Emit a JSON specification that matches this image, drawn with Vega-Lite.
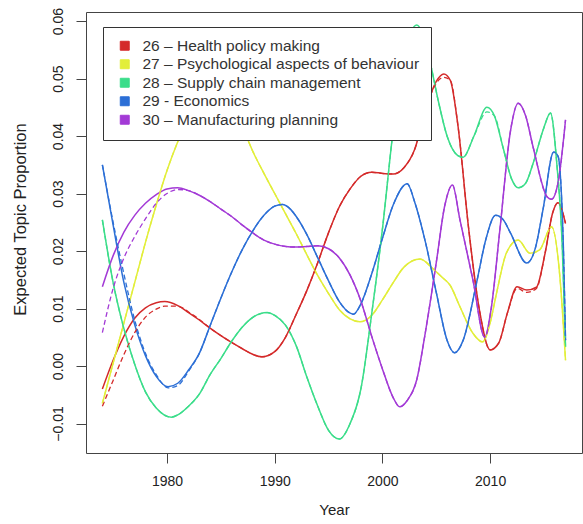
{
  "$schema": "https://vega.github.io/schema/vega-lite/v6.json",
  "width": 496,
  "height": 441,
  "autosize": {"type": "none"},
  "padding": {"left": 86, "top": 12, "right": 1, "bottom": 71},
  "background": "white",
  "config": {
    "view": {"stroke": "#444", "strokeWidth": 1},
    "font": "Liberation Sans",
    "axis": {
      "domain": false,
      "grid": false,
      "tickColor": "#444",
      "tickSize": 10,
      "labelFont": "Liberation Sans",
      "labelFontSize": 14,
      "labelColor": "#222",
      "titleFont": "Liberation Sans",
      "titleFontSize": 15,
      "titleFontWeight": "normal",
      "titleColor": "#222",
      "labelPadding": 11
    },
    "legend": {
      "orient": "none",
      "legendX": 17,
      "legendY": 15,
      "fillColor": "white",
      "strokeColor": "#333",
      "padding": 11,
      "symbolType": "square",
      "symbolSize": 80,
      "labelFont": "Liberation Sans",
      "labelFontSize": 15.5,
      "labelColor": "#333",
      "labelOffset": 10,
      "labelLimit": 0,
      "rowPadding": 1.5,
      "symbolOffset": 3
    }
  },
  "data": {
    "values": [
      {"topic": "26", "year": 1974, "v": -0.004, "d": -0.007},
      {"topic": "26", "year": 1975, "v": 0.001, "d": -0.0025},
      {"topic": "26", "year": 1976, "v": 0.0052, "d": 0.002},
      {"topic": "26", "year": 1977, "v": 0.0083, "d": 0.0058},
      {"topic": "26", "year": 1978, "v": 0.0101, "d": 0.0085},
      {"topic": "26", "year": 1979, "v": 0.011, "d": 0.0099},
      {"topic": "26", "year": 1979.8, "v": 0.0112, "d": 0.0104},
      {"topic": "26", "year": 1981, "v": 0.0105, "d": 0.0104},
      {"topic": "26", "year": 1982, "v": 0.0093, "d": 0.0094},
      {"topic": "26", "year": 1983, "v": 0.008, "d": 0.0081},
      {"topic": "26", "year": 1984, "v": 0.0066, "d": 0.0066},
      {"topic": "26", "year": 1985, "v": 0.0053, "d": 0.0053},
      {"topic": "26", "year": 1986, "v": 0.0041, "d": 0.0041},
      {"topic": "26", "year": 1987, "v": 0.003, "d": 0.003},
      {"topic": "26", "year": 1988, "v": 0.002, "d": 0.002},
      {"topic": "26", "year": 1988.8, "v": 0.0016, "d": 0.0016},
      {"topic": "26", "year": 1990, "v": 0.0025, "d": 0.0025},
      {"topic": "26", "year": 1991, "v": 0.005, "d": 0.005},
      {"topic": "26", "year": 1992, "v": 0.009, "d": 0.009},
      {"topic": "26", "year": 1993, "v": 0.0132, "d": 0.0132},
      {"topic": "26", "year": 1994, "v": 0.018, "d": 0.018},
      {"topic": "26", "year": 1995, "v": 0.0232, "d": 0.0232},
      {"topic": "26", "year": 1996, "v": 0.0277, "d": 0.0277},
      {"topic": "26", "year": 1997, "v": 0.0308, "d": 0.0308},
      {"topic": "26", "year": 1998, "v": 0.033, "d": 0.033},
      {"topic": "26", "year": 1999, "v": 0.0337, "d": 0.0337},
      {"topic": "26", "year": 2000, "v": 0.0335, "d": 0.0335},
      {"topic": "26", "year": 2001, "v": 0.0334, "d": 0.0334},
      {"topic": "26", "year": 2002, "v": 0.0345, "d": 0.0345},
      {"topic": "26", "year": 2003, "v": 0.0377, "d": 0.0377},
      {"topic": "26", "year": 2004, "v": 0.0445, "d": 0.0445},
      {"topic": "26", "year": 2005, "v": 0.0495, "d": 0.0492},
      {"topic": "26", "year": 2005.7, "v": 0.0508, "d": 0.0502},
      {"topic": "26", "year": 2006.3, "v": 0.0497, "d": 0.0497},
      {"topic": "26", "year": 2007, "v": 0.042, "d": 0.042},
      {"topic": "26", "year": 2008, "v": 0.024, "d": 0.024},
      {"topic": "26", "year": 2009, "v": 0.0098, "d": 0.0098},
      {"topic": "26", "year": 2010, "v": 0.0028, "d": 0.0028},
      {"topic": "26", "year": 2010.8, "v": 0.004, "d": 0.004},
      {"topic": "26", "year": 2011.6, "v": 0.0092, "d": 0.0092},
      {"topic": "26", "year": 2012.5, "v": 0.0138, "d": 0.0135},
      {"topic": "26", "year": 2013.4, "v": 0.0132, "d": 0.0128},
      {"topic": "26", "year": 2014.3, "v": 0.0137, "d": 0.0135},
      {"topic": "26", "year": 2015.1, "v": 0.0196, "d": 0.0196},
      {"topic": "26", "year": 2015.8, "v": 0.0266, "d": 0.0266},
      {"topic": "26", "year": 2016.3, "v": 0.0284, "d": 0.0284},
      {"topic": "26", "year": 2017, "v": 0.0248, "d": 0.0248},

      {"topic": "27", "year": 1974, "v": -0.0065, "d": -0.0065},
      {"topic": "27", "year": 1975, "v": 0.0005, "d": 0.0005},
      {"topic": "27", "year": 1976, "v": 0.0075, "d": 0.0075},
      {"topic": "27", "year": 1977, "v": 0.0145, "d": 0.0145},
      {"topic": "27", "year": 1978, "v": 0.0215, "d": 0.0215},
      {"topic": "27", "year": 1979, "v": 0.028, "d": 0.028},
      {"topic": "27", "year": 1980, "v": 0.034, "d": 0.034},
      {"topic": "27", "year": 1981, "v": 0.039, "d": 0.039},
      {"topic": "27", "year": 1982, "v": 0.0432, "d": 0.0432},
      {"topic": "27", "year": 1983, "v": 0.0462, "d": 0.0462},
      {"topic": "27", "year": 1984, "v": 0.0477, "d": 0.0477},
      {"topic": "27", "year": 1985, "v": 0.0472, "d": 0.0472},
      {"topic": "27", "year": 1986, "v": 0.045, "d": 0.045},
      {"topic": "27", "year": 1987, "v": 0.0415, "d": 0.0415},
      {"topic": "27", "year": 1988, "v": 0.0372, "d": 0.0372},
      {"topic": "27", "year": 1989, "v": 0.0335, "d": 0.0335},
      {"topic": "27", "year": 1990, "v": 0.03, "d": 0.03},
      {"topic": "27", "year": 1991, "v": 0.0265, "d": 0.0265},
      {"topic": "27", "year": 1992, "v": 0.023, "d": 0.023},
      {"topic": "27", "year": 1993, "v": 0.0193, "d": 0.0193},
      {"topic": "27", "year": 1994, "v": 0.0157, "d": 0.0157},
      {"topic": "27", "year": 1995, "v": 0.0126, "d": 0.0126},
      {"topic": "27", "year": 1996, "v": 0.0098, "d": 0.0098},
      {"topic": "27", "year": 1997, "v": 0.0082, "d": 0.0082},
      {"topic": "27", "year": 1997.9, "v": 0.0077, "d": 0.0077},
      {"topic": "27", "year": 1999, "v": 0.0088, "d": 0.0088},
      {"topic": "27", "year": 2000, "v": 0.0115, "d": 0.0115},
      {"topic": "27", "year": 2001, "v": 0.0145, "d": 0.0145},
      {"topic": "27", "year": 2002, "v": 0.0172, "d": 0.0172},
      {"topic": "27", "year": 2003.5, "v": 0.0186, "d": 0.0186},
      {"topic": "27", "year": 2004.7, "v": 0.0169, "d": 0.0169},
      {"topic": "27", "year": 2005.5, "v": 0.0155, "d": 0.0155},
      {"topic": "27", "year": 2006.3, "v": 0.014, "d": 0.014},
      {"topic": "27", "year": 2007.2, "v": 0.0103, "d": 0.0103},
      {"topic": "27", "year": 2008.4, "v": 0.0057, "d": 0.0057},
      {"topic": "27", "year": 2009.3, "v": 0.0042, "d": 0.0042},
      {"topic": "27", "year": 2010, "v": 0.0075, "d": 0.0075},
      {"topic": "27", "year": 2010.6, "v": 0.0127, "d": 0.0127},
      {"topic": "27", "year": 2011.5, "v": 0.0196, "d": 0.0196},
      {"topic": "27", "year": 2012.6, "v": 0.0219, "d": 0.0219},
      {"topic": "27", "year": 2013.7, "v": 0.0196, "d": 0.0196},
      {"topic": "27", "year": 2014.6, "v": 0.0202, "d": 0.0202},
      {"topic": "27", "year": 2015.7, "v": 0.0242, "d": 0.0242},
      {"topic": "27", "year": 2016.5, "v": 0.015, "d": 0.015},
      {"topic": "27", "year": 2017, "v": 0.001, "d": 0.001},

      {"topic": "28", "year": 1974, "v": 0.0254, "d": 0.0254},
      {"topic": "28", "year": 1975, "v": 0.0145, "d": 0.0145},
      {"topic": "28", "year": 1976, "v": 0.0065, "d": 0.0065},
      {"topic": "28", "year": 1977, "v": 0.0003, "d": 0.0003},
      {"topic": "28", "year": 1978, "v": -0.0045, "d": -0.0045},
      {"topic": "28", "year": 1979, "v": -0.0073, "d": -0.0073},
      {"topic": "28", "year": 1980.4, "v": -0.0089, "d": -0.0089},
      {"topic": "28", "year": 1981, "v": -0.0085, "d": -0.0085},
      {"topic": "28", "year": 1982, "v": -0.007, "d": -0.007},
      {"topic": "28", "year": 1983, "v": -0.0049, "d": -0.0049},
      {"topic": "28", "year": 1984, "v": -0.0015, "d": -0.0015},
      {"topic": "28", "year": 1985, "v": 0.0013, "d": 0.0013},
      {"topic": "28", "year": 1986, "v": 0.0043, "d": 0.0043},
      {"topic": "28", "year": 1987, "v": 0.0068, "d": 0.0068},
      {"topic": "28", "year": 1988, "v": 0.0085, "d": 0.0085},
      {"topic": "28", "year": 1989.3, "v": 0.0093, "d": 0.0093},
      {"topic": "28", "year": 1990, "v": 0.0088, "d": 0.0088},
      {"topic": "28", "year": 1991, "v": 0.0071, "d": 0.0071},
      {"topic": "28", "year": 1992, "v": 0.0035, "d": 0.0035},
      {"topic": "28", "year": 1993, "v": -0.002, "d": -0.002},
      {"topic": "28", "year": 1994, "v": -0.007, "d": -0.007},
      {"topic": "28", "year": 1995, "v": -0.0112, "d": -0.0112},
      {"topic": "28", "year": 1996, "v": -0.0127, "d": -0.0127},
      {"topic": "28", "year": 1997, "v": -0.01, "d": -0.01},
      {"topic": "28", "year": 1998, "v": -0.004, "d": -0.004},
      {"topic": "28", "year": 1999, "v": 0.009, "d": 0.009},
      {"topic": "28", "year": 2000, "v": 0.0238, "d": 0.0238},
      {"topic": "28", "year": 2001, "v": 0.041, "d": 0.041},
      {"topic": "28", "year": 2002, "v": 0.0538, "d": 0.0538},
      {"topic": "28", "year": 2003.2, "v": 0.0593, "d": 0.0588},
      {"topic": "28", "year": 2004.4, "v": 0.053, "d": 0.053},
      {"topic": "28", "year": 2005.2, "v": 0.046, "d": 0.046},
      {"topic": "28", "year": 2006, "v": 0.04, "d": 0.04},
      {"topic": "28", "year": 2007, "v": 0.0366, "d": 0.0366},
      {"topic": "28", "year": 2007.5, "v": 0.0363, "d": 0.0363},
      {"topic": "28", "year": 2008.5, "v": 0.04, "d": 0.04},
      {"topic": "28", "year": 2009.7, "v": 0.045, "d": 0.0442},
      {"topic": "28", "year": 2010.4, "v": 0.0435, "d": 0.0435},
      {"topic": "28", "year": 2011.2, "v": 0.038, "d": 0.038},
      {"topic": "28", "year": 2012, "v": 0.0325, "d": 0.0325},
      {"topic": "28", "year": 2012.6, "v": 0.031, "d": 0.031},
      {"topic": "28", "year": 2013.3, "v": 0.0318, "d": 0.0318},
      {"topic": "28", "year": 2014, "v": 0.0353, "d": 0.0353},
      {"topic": "28", "year": 2015, "v": 0.0415, "d": 0.0415},
      {"topic": "28", "year": 2015.6, "v": 0.044, "d": 0.044},
      {"topic": "28", "year": 2016.2, "v": 0.035, "d": 0.035},
      {"topic": "28", "year": 2016.7, "v": 0.0207, "d": 0.0207},
      {"topic": "28", "year": 2017, "v": 0.0033, "d": 0.0033},

      {"topic": "29", "year": 1974, "v": 0.035, "d": 0.035},
      {"topic": "29", "year": 1975, "v": 0.0245, "d": 0.025},
      {"topic": "29", "year": 1976, "v": 0.0145, "d": 0.016},
      {"topic": "29", "year": 1977, "v": 0.0072, "d": 0.008},
      {"topic": "29", "year": 1978, "v": 0.0018, "d": 0.0022},
      {"topic": "29", "year": 1979, "v": -0.0018, "d": -0.0015},
      {"topic": "29", "year": 1980.1, "v": -0.0036, "d": -0.0038},
      {"topic": "29", "year": 1981, "v": -0.003, "d": -0.0034},
      {"topic": "29", "year": 1982, "v": -0.0007, "d": -0.0009},
      {"topic": "29", "year": 1983, "v": 0.0022, "d": 0.0022},
      {"topic": "29", "year": 1984, "v": 0.007, "d": 0.007},
      {"topic": "29", "year": 1985, "v": 0.0118, "d": 0.0118},
      {"topic": "29", "year": 1986, "v": 0.0163, "d": 0.0163},
      {"topic": "29", "year": 1987, "v": 0.0203, "d": 0.0203},
      {"topic": "29", "year": 1988, "v": 0.0236, "d": 0.0236},
      {"topic": "29", "year": 1989, "v": 0.0262, "d": 0.0262},
      {"topic": "29", "year": 1990, "v": 0.0278, "d": 0.0278},
      {"topic": "29", "year": 1990.7, "v": 0.0281, "d": 0.0281},
      {"topic": "29", "year": 1991.5, "v": 0.0272, "d": 0.0272},
      {"topic": "29", "year": 1992, "v": 0.026, "d": 0.026},
      {"topic": "29", "year": 1993, "v": 0.0228, "d": 0.0228},
      {"topic": "29", "year": 1994, "v": 0.0188, "d": 0.0188},
      {"topic": "29", "year": 1995, "v": 0.0148, "d": 0.0148},
      {"topic": "29", "year": 1996, "v": 0.0112, "d": 0.0112},
      {"topic": "29", "year": 1997, "v": 0.0092, "d": 0.0092},
      {"topic": "29", "year": 1997.3, "v": 0.009, "d": 0.009},
      {"topic": "29", "year": 1998, "v": 0.0108, "d": 0.0108},
      {"topic": "29", "year": 1999, "v": 0.016, "d": 0.016},
      {"topic": "29", "year": 2000, "v": 0.0222, "d": 0.0222},
      {"topic": "29", "year": 2001, "v": 0.028, "d": 0.028},
      {"topic": "29", "year": 2002.3, "v": 0.0317, "d": 0.0317},
      {"topic": "29", "year": 2003, "v": 0.0285, "d": 0.0285},
      {"topic": "29", "year": 2004, "v": 0.0215, "d": 0.0215},
      {"topic": "29", "year": 2005, "v": 0.0128, "d": 0.0128},
      {"topic": "29", "year": 2006, "v": 0.0045, "d": 0.0045},
      {"topic": "29", "year": 2006.7, "v": 0.0023, "d": 0.0023},
      {"topic": "29", "year": 2007.5, "v": 0.0045, "d": 0.0045},
      {"topic": "29", "year": 2008.8, "v": 0.015, "d": 0.015},
      {"topic": "29", "year": 2009.6, "v": 0.022, "d": 0.022},
      {"topic": "29", "year": 2010.5, "v": 0.0262, "d": 0.0262},
      {"topic": "29", "year": 2011.2, "v": 0.0255, "d": 0.0255},
      {"topic": "29", "year": 2011.9, "v": 0.0231, "d": 0.0231},
      {"topic": "29", "year": 2013.4, "v": 0.0179, "d": 0.0179},
      {"topic": "29", "year": 2014.2, "v": 0.0205, "d": 0.0205},
      {"topic": "29", "year": 2014.9, "v": 0.0271, "d": 0.0271},
      {"topic": "29", "year": 2015.9, "v": 0.0372, "d": 0.0372},
      {"topic": "29", "year": 2016.3, "v": 0.0365, "d": 0.0365},
      {"topic": "29", "year": 2016.8, "v": 0.0207, "d": 0.0207},
      {"topic": "29", "year": 2017, "v": 0.0045, "d": 0.0045},

      {"topic": "30", "year": 1974, "v": 0.0138, "d": 0.0058},
      {"topic": "30", "year": 1975, "v": 0.0192, "d": 0.0135},
      {"topic": "30", "year": 1976, "v": 0.0233, "d": 0.0188},
      {"topic": "30", "year": 1977, "v": 0.0262, "d": 0.0225},
      {"topic": "30", "year": 1978, "v": 0.0283, "d": 0.0256},
      {"topic": "30", "year": 1979, "v": 0.0298, "d": 0.0283},
      {"topic": "30", "year": 1980, "v": 0.0308, "d": 0.03},
      {"topic": "30", "year": 1981, "v": 0.031, "d": 0.0307},
      {"topic": "30", "year": 1982, "v": 0.0305, "d": 0.0305},
      {"topic": "30", "year": 1983, "v": 0.0297, "d": 0.0297},
      {"topic": "30", "year": 1984, "v": 0.0286, "d": 0.0286},
      {"topic": "30", "year": 1985, "v": 0.0273, "d": 0.0273},
      {"topic": "30", "year": 1986, "v": 0.026, "d": 0.026},
      {"topic": "30", "year": 1987, "v": 0.0245, "d": 0.0245},
      {"topic": "30", "year": 1988, "v": 0.0231, "d": 0.0231},
      {"topic": "30", "year": 1989, "v": 0.0219, "d": 0.0219},
      {"topic": "30", "year": 1990, "v": 0.0212, "d": 0.0212},
      {"topic": "30", "year": 1991, "v": 0.0208, "d": 0.0208},
      {"topic": "30", "year": 1992, "v": 0.0207, "d": 0.0207},
      {"topic": "30", "year": 1993, "v": 0.0208, "d": 0.0208},
      {"topic": "30", "year": 1994, "v": 0.0209, "d": 0.0209},
      {"topic": "30", "year": 1995, "v": 0.0204, "d": 0.0204},
      {"topic": "30", "year": 1996, "v": 0.0188, "d": 0.0188},
      {"topic": "30", "year": 1997, "v": 0.0158, "d": 0.0158},
      {"topic": "30", "year": 1998, "v": 0.0113, "d": 0.0113},
      {"topic": "30", "year": 1999, "v": 0.0052, "d": 0.0052},
      {"topic": "30", "year": 2000, "v": -0.0005, "d": -0.0005},
      {"topic": "30", "year": 2001, "v": -0.0055, "d": -0.0055},
      {"topic": "30", "year": 2001.6, "v": -0.0071, "d": -0.0071},
      {"topic": "30", "year": 2002.3, "v": -0.006, "d": -0.006},
      {"topic": "30", "year": 2003.2, "v": -0.0023, "d": -0.0023},
      {"topic": "30", "year": 2004, "v": 0.006, "d": 0.006},
      {"topic": "30", "year": 2005, "v": 0.018, "d": 0.018},
      {"topic": "30", "year": 2005.8, "v": 0.028, "d": 0.028},
      {"topic": "30", "year": 2006.5, "v": 0.0315, "d": 0.0315},
      {"topic": "30", "year": 2007.2, "v": 0.0254, "d": 0.0254},
      {"topic": "30", "year": 2008.4, "v": 0.015, "d": 0.015},
      {"topic": "30", "year": 2009.5, "v": 0.005, "d": 0.005},
      {"topic": "30", "year": 2010.1, "v": 0.01, "d": 0.01},
      {"topic": "30", "year": 2010.9, "v": 0.0236, "d": 0.0236},
      {"topic": "30", "year": 2011.9, "v": 0.041, "d": 0.041},
      {"topic": "30", "year": 2012.6, "v": 0.0457, "d": 0.0457},
      {"topic": "30", "year": 2013.3, "v": 0.0435, "d": 0.0435},
      {"topic": "30", "year": 2014, "v": 0.038, "d": 0.038},
      {"topic": "30", "year": 2015.3, "v": 0.0294, "d": 0.0294},
      {"topic": "30", "year": 2015.7, "v": 0.029, "d": 0.029},
      {"topic": "30", "year": 2016.3, "v": 0.0318, "d": 0.0318},
      {"topic": "30", "year": 2017, "v": 0.0428, "d": 0.0428}
    ]
  },
  "encoding": {
    "x": {
      "field": "year",
      "type": "quantitative",
      "title": "Year",
      "scale": {"domain": [1972.48, 2018.53], "nice": false, "zero": false},
      "axis": {"values": [1980, 1990, 2000, 2010], "format": "d", "titlePadding": 14}
    },
    "color": {
      "field": "topic",
      "type": "nominal",
      "scale": {
        "domain": ["26", "27", "28", "29", "30"],
        "range": ["#D42A2A", "#E2EE3A", "#3BDD8A", "#2C6FD6", "#A33AD6"]
      },
      "legend": {
        "title": null,
        "labelExpr": "{'26': '26 – Health policy making', '27': '27 – Psychological aspects of behaviour', '28': '28 – Supply chain management', '29': '29  - Economics', '30': '30 – Manufacturing planning'}[datum.label]",
        "encode": {
          "symbols": {
            "update": {
              "fill": {"scale": "color", "field": "value"},
              "stroke": {"value": "#333"},
              "strokeWidth": {"value": 1},
              "opacity": {"value": 1}
            }
          }
        }
      }
    },
    "detail": {"field": "topic"}
  },
  "layer": [
    {
      "mark": {"type": "line", "interpolate": "monotone", "strokeWidth": 1.5, "clip": true},
      "encoding": {
        "y": {
          "field": "v",
          "type": "quantitative",
          "title": "Expected Topic Proportion",
          "scale": {"domain": [-0.01513, 0.06157], "nice": false, "zero": false},
          "axis": {
            "values": [-0.01, 0, 0.01, 0.02, 0.03, 0.04, 0.05, 0.06],
            "format": ".2f",
            "labelAngle": -90,
            "labelAlign": "center",
            "labelBaseline": "bottom",
            "titlePadding": 23,
            "titleFontSize": 16.5,
            "titleY": 207
          }
        }
      }
    },
    {
      "mark": {"type": "line", "interpolate": "monotone", "strokeWidth": 1.3, "strokeDash": [5, 3], "clip": true},
      "encoding": {
        "y": {"field": "d", "type": "quantitative"}
      }
    }
  ]
}
